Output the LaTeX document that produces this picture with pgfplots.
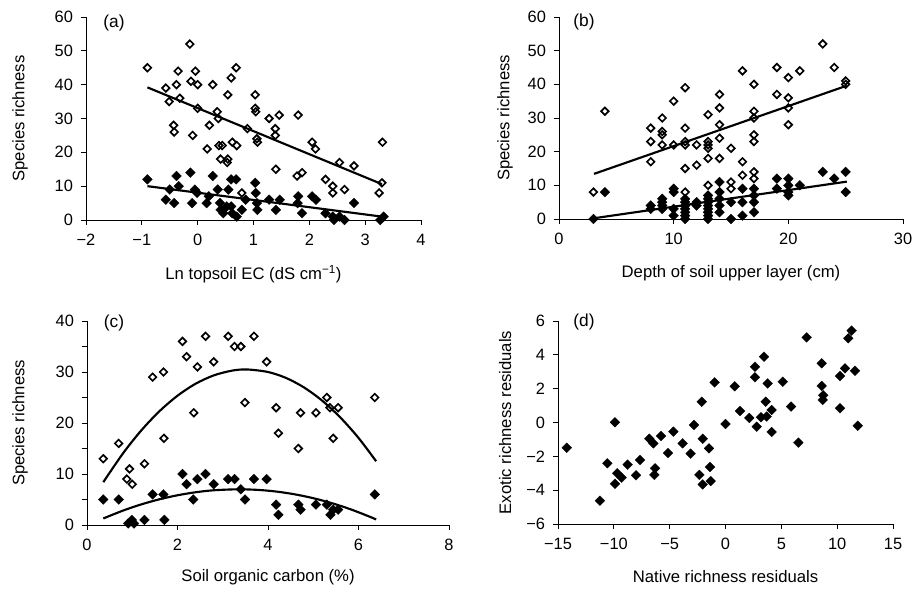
\documentclass[border=0pt]{standalone}
\usepackage{fontspec}
\setmainfont{Liberation Sans}
\usepackage{pgfplots}
\pgfplotsset{compat=1.18}
\begin{document}
\begin{tikzpicture}[x=0.75pt,y=0.75pt]
\path[use as bounding box] (0,0) rectangle (917,589);
\pgfplotsset{
 panel/.style={scale only axis, axis x line*=bottom, axis y line*=left,
   tick align=outside, major tick length=3.75pt,
   axis line style={line width=0.7pt,-}, every tick/.style={line width=0.7pt, black},
   tick label style={font=\fontsize{12.3}{14}\selectfont},
   xticklabel style={yshift=-3.5pt},
   yticklabel style={xshift=-2.5pt},
   label style={font=\fontsize{12.5}{14}\selectfont},
   anchor=south west, clip=false,
   /pgf/number format/assume math mode=true},
 openm/.style={only marks, mark=square, mark size=2pt,
   mark options={rotate=45, line width=1.25pt, fill=white, draw=black}},
 fillm/.style={only marks, mark=square*, mark size=2.6pt,
   mark options={rotate=45, fill=black, draw=black, line width=0.2pt}},
 fitl/.style={no marks, line width=1.6pt, black},
}
% ---------------- (a)
\begin{axis}[panel, at={(64.5pt,276.75pt)}, width=251.25pt, height=152.25pt,
  xmin=-2, xmax=4, ymin=0, ymax=60,
  xtick={-2,-1,0,1,2,3,4}, xticklabels={−2,−1,0,1,2,3,4},
  ytick={0,10,...,60},
  xlabel={Ln topsoil EC (dS cm\textsuperscript{−1})},
  ylabel={Species richness},
  xlabel style={at={(axis description cs:0.5,-0.266)}, anchor=center},
  ylabel style={at={(axis description cs:-0.197,0.5)}, anchor=center}]
\addplot[openm] coordinates {
(-0.90,45)(-0.14,52)(-0.57,39)(-0.51,35)(-0.38,40)(-0.35,44)(-0.32,36)(-0.43,28)(-0.42,26)
(-0.12,41)(-0.04,44)(0.0,40)(0.0,33)(-0.09,25)(0.17,21)(0.21,28)(0.27,40)(0.35,32)(0.37,30)
(0.38,22)(0.44,22)(0.41,18)(0.54,18)(0.53,17)(0.54,37)(0.60,42)(0.69,45)(0.62,23)(0.70,22)
(0.79,8)(0.89,27)(1.03,37)(1.03,33)(1.04,32)(1.06,24)(1.07,23)(1.28,30)(1.39,27)(1.39,25)
(1.46,31)(1.40,15)(1.80,31)(1.78,13)(1.87,14)(2.05,23)(2.11,21)(2.29,12)(2.42,10)(2.42,8)
(2.54,17)(2.63,9)(2.80,16)(3.31,23)(3.30,11)(3.25,8)};
\addplot[fillm] coordinates {
(-0.90,12)(-0.57,6)(-0.50,9)(-0.42,5)(-0.38,13)(-0.34,10)(-0.13,14)(-0.10,5)(-0.05,9)(-0.01,8)
(0.16,5)(0.20,7)(0.27,13)(0.36,9)(0.40,5)(0.41,3)(0.46,2)(0.55,9)(0.52,4)(0.60,4)(0.60,12)
(0.69,12)(0.62,2)(0.70,1)(0.79,3)(0.86,6)(1.03,11)(1.04,8)(1.06,5)(1.07,3)(1.28,6)(1.40,3)
(1.47,6)(1.80,7)(1.79,5)(1.87,2)(2.05,7)(2.12,6)(2.29,2)(2.42,1)(2.44,0)(2.54,1)(2.63,0)
(2.80,5)(3.27,0)(3.33,1)};
\addplot[fitl] coordinates {(-0.90,39.2)(3.30,10.6)};
\addplot[fitl] coordinates {(-0.90,10.0)(3.30,1.0)};
\end{axis}
\node[font=\fontsize{13}{14}\selectfont] at (114,566) {(a)};
% ---------------- (b)
\begin{axis}[panel, at={(419.25pt,277.5pt)}, width=258pt, height=151.5pt,
  xmin=0, xmax=30, ymin=0, ymax=60,
  xtick={0,10,20,30}, ytick={0,10,...,60},
  xlabel={Depth of soil upper layer (cm)},
  ylabel={Species richness},
  xlabel style={at={(axis description cs:0.5,-0.27)}, anchor=center},
  ylabel style={at={(axis description cs:-0.157,0.5)}, anchor=center}]
\addplot[openm] coordinates {
(3,8)(4,32)(8,27)(8,23)(8,17)(9,30)(9,26)(9,25)(9,22)(10,35)(10,22)(11,39)(11,27)(11,23)
(11,22)(11,15)(11,8)(12,22)(12,16)(13,31)(13,23)(13,22)(13,21)(13,18)(13,10)(14,37)(14,33)
(14,28)(14,24)(14,18)(15,21)(15,11)(15,9)(16,44)(16,17)(16,13)(17,40)(17,32)(17,30)(17,25)
(17,23)(17,14)(17,12)(19,45)(19,37)(20,42)(20,36)(20,33)(20,28)(21,44)(23,52)(24,45)(25,41)(25,40)};
\addplot[fillm] coordinates {
(3,0)(4,8)(8,4)(8,3)(9,6)(9,5)(9,4)(9,3)(10,9)(10,8)(10,3)(10,1)(11,6)(11,5)(11,4)(11,3)
(11,2)(11,1)(11,0)(12,5)(12,4)(13,7)(13,6)(13,5)(13,4)(13,3)(13,2)(13,1)(13,0)(14,11)(14,8)
(14,6)(14,4)(14,2)(15,5)(15,0)(16,9)(16,5)(16,1)(17,9)(17,7)(17,5)(17,2)(19,12)(19,9)(20,12)
(20,10)(20,8)(20,7)(21,10)(23,14)(24,12)(25,14)(25,8)};
\addplot[fitl] coordinates {(3.05,13.4)(25.1,39.6)};
\addplot[fitl] coordinates {(3.0,0.2)(25.1,11.1)};
\end{axis}
\node[font=\fontsize{13}{14}\selectfont] at (584,567) {(b)};
% ---------------- (c)
\begin{axis}[panel, at={(65.25pt,48pt)}, width=271.5pt, height=153pt,
  xmin=0, xmax=8, ymin=0, ymax=40,
  xtick={0,2,4,6,8}, ytick={0,5,...,40}, yticklabels={0,,10,,20,,30,,40},
  xlabel={Soil organic carbon (\%)},
  ylabel={Species richness},
  xlabel style={at={(axis description cs:0.5,-0.255)}, anchor=center},
  ylabel style={at={(axis description cs:-0.185,0.5)}, anchor=center}]
\addplot[openm] coordinates {
(0.36,13)(0.70,16)(0.94,11)(0.88,9)(1.0,8)(1.27,12)(1.45,29)(1.69,30)(1.70,17)(2.11,36)
(2.20,33)(2.44,31)(2.36,22)(2.62,37)(2.80,32)(3.12,37)(3.26,35)(3.40,35)(3.49,24)(3.69,37)
(3.97,32)(4.18,23)(4.23,18)(4.67,15)(4.72,22)(5.06,22)(5.30,25)(5.37,23)(5.44,17)(5.55,23)(6.36,25)};
\addplot[fillm] coordinates {
(0.36,5)(0.70,5)(0.91,0.3)(0.99,1)(1.04,0.3)(1.27,1)(1.45,6)(1.69,6)(1.71,1)(2.35,5)(2.20,8)
(2.44,9)(2.62,10)(2.11,10)(2.80,8)(3.12,9)(3.26,9)(3.40,7)(3.49,5)(3.69,9)(3.97,9)(4.18,4)
(4.23,2)(4.67,4)(4.72,3)(5.06,4)(5.30,4)(5.38,2)(5.44,3)(5.55,3)(6.36,6)};
\addplot[fitl, smooth] coordinates {
(0.36,8.4)(0.8,14.1)(1.2,18.55)(1.6,22.3)(2.0,25.35)(2.4,27.7)(2.8,29.33)(3.2,30.26)(3.53,30.5)
(4.0,30.0)(4.4,28.83)(4.8,26.95)(5.2,24.36)(5.6,21.07)(6.0,17.08)(6.39,12.5)};
\addplot[fitl, smooth] coordinates {
(0.36,1.28)(0.8,2.84)(1.2,4.04)(1.6,5.04)(2.0,5.83)(2.4,6.42)(2.8,6.81)(3.35,7.0)(3.8,6.87)
(4.2,6.54)(4.6,6.0)(5.0,5.26)(5.4,4.31)(5.8,3.16)(6.2,1.8)(6.39,1.09)};
\end{axis}
\node[font=\fontsize{13}{14}\selectfont] at (114,266) {(c)};
% ---------------- (d)
\begin{axis}[panel, at={(418.5pt,48.75pt)}, width=251.25pt, height=152.25pt,
  xmin=-15, xmax=15, ymin=-6, ymax=6,
  xtick={-15,-10,...,15}, xticklabels={−15,−10,−5,0,5,10,15},
  ytick={-6,-4,...,6}, yticklabels={−6,−4,−2,0,2,4,6},
  xlabel={Native richness residuals},
  ylabel={Exotic richness residuals},
  xlabel style={at={(axis description cs:0.5,-0.26)}, anchor=center},
  ylabel style={at={(axis description cs:-0.158,0.5)}, anchor=center}]
\addplot[fillm] coordinates {
(-14.22,-1.49)(-11.24,-4.62)(-10.58,-2.41)(-9.90,0.01)(-9.90,-3.62)(-9.69,-3.0)(-9.30,-3.26)
(-8.76,-2.49)(-8.01,-3.12)(-7.66,-2.22)(-6.82,-0.96)(-6.46,-1.23)(-6.31,-2.71)(-6.37,-3.10)
(-5.78,-0.80)(-5.15,-1.80)(-4.67,-0.54)(-3.84,-1.23)(-3.12,-1.84)(-2.82,-0.15)(-2.34,-3.10)
(-2.13,1.23)(-2.04,-0.96)(-2.04,-3.66)(-1.48,-1.53)(-1.39,-2.63)(-1.33,-3.46)(-0.97,2.37)
(0.0,-0.09)(0.82,2.14)(1.30,0.68)(2.13,0.27)(2.64,3.30)(2.64,2.67)(2.79,-0.25)(3.18,0.31)
(3.45,3.89)(3.60,1.23)(3.69,0.35)(3.78,2.31)(4.13,0.74)(4.13,-0.56)(5.12,2.41)(5.87,0.94)
(6.52,-1.19)(7.27,5.03)(8.61,3.50)(8.61,2.16)(8.76,1.61)(8.70,1.33)(10.25,2.75)(10.25,0.84)
(10.70,3.20)(11.0,4.98)(11.30,5.43)(11.60,3.06)(11.84,-0.19)};
\end{axis}
\node[font=\fontsize{13}{14}\selectfont] at (584,267) {(d)};
\end{tikzpicture}
\end{document}
